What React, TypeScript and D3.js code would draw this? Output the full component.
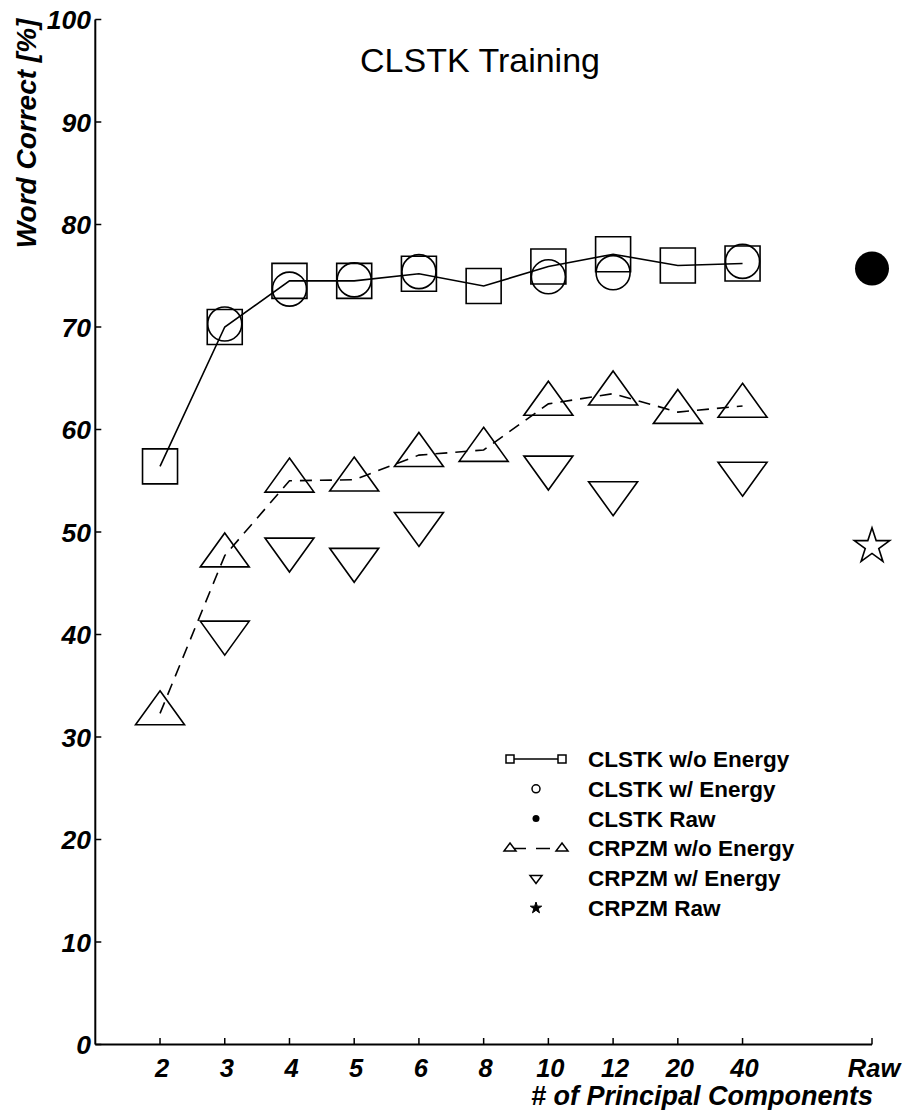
import React from 'react';
import * as d3 from 'd3';

const categories = ['2', '3', '4', '5', '6', '8', '10', '12', '20', '40'];
const rawLabel = 'Raw';
const yTicks = [0, 10, 20, 30, 40, 50, 60, 70, 80, 90, 100];

// values (null = no marker)
const clstkNoEnergy = [56.4, 70.0, 74.5, 74.5, 75.2, 74.0, 75.9, 77.1, 76.0, 76.2];
const clstkEnergy = [null, 70.3, 73.7, 74.6, 75.4, null, 74.9, 75.3, null, 76.4];
const clstkRaw = 75.7;
const crpzmNoEnergy = [32.3, 47.7, 55.0, 55.1, 57.5, 58.0, 62.5, 63.5, 61.7, 62.3];
const crpzmEnergy = [null, 40.2, 48.3, 47.3, 50.8, null, 56.3, 53.8, null, 55.7];
const crpzmRaw = 48.6;

const legendLabels = [
  'CLSTK w/o Energy',
  'CLSTK w/ Energy',
  'CLSTK Raw',
  'CRPZM w/o Energy',
  'CRPZM w/ Energy',
  'CRPZM Raw',
];

const W = 905;
const H = 1110;
const FONT = '"Liberation Sans", Arial, Helvetica, sans-serif';
const RAW_POS = 11;

function squarePath(cx: number, cy: number, s: number) {
  const p = d3.path();
  p.rect(cx - s / 2, cy - s / 2, s, s);
  return p.toString();
}

// triangle centred on its centroid; dir = 1 up, -1 down
function trianglePath(cx: number, cy: number, w: number, h: number, dir: number) {
  const p = d3.path();
  p.moveTo(cx, cy - dir * (2 * h) / 3);
  p.lineTo(cx + w / 2, cy + dir * h / 3);
  p.lineTo(cx - w / 2, cy + dir * h / 3);
  p.closePath();
  return p.toString();
}

function starPath(cx: number, cy: number, r: number) {
  const p = d3.path();
  const ri = r * 0.382;
  for (let i = 0; i < 10; i++) {
    const a = -Math.PI / 2 + (i * Math.PI) / 5;
    const rr = i % 2 === 0 ? r : ri;
    const x = cx + rr * Math.cos(a);
    const y = cy + rr * Math.sin(a);
    if (i === 0) p.moveTo(x, y);
    else p.lineTo(x, y);
  }
  p.closePath();
  return p.toString();
}

export default function App() {
  const x = d3.scaleLinear().domain([-1, RAW_POS]).range([95.3, 872]);
  const y = d3.scaleLinear().domain([0, 100]).range([1044.5, 19.5]);

  const lineGen = d3
    .line<number>()
    .x((_, i) => x(i))
    .y((d) => y(d));

  const tickPositions = [...categories.map((_, i) => i), RAW_POS];
  const tickLabels = [...categories, rawLabel];

  const legendY = d3.scalePoint<number>().domain(d3.range(6)).range([759, 908]);
  const lx0 = 510;
  const lx1 = 562;
  const lxc = 536;

  return (
    <svg
      width={W}
      height={H}
      style={{ position: 'absolute', left: 0, top: 0, background: '#fff' }}
      fontFamily={FONT}
    >
      <rect width={W} height={H} fill="#fff" />

      {/* title */}
      <text x={480} y={72} fontSize={34} textAnchor="middle" fill="#000">
        CLSTK Training
      </text>

      {/* axes */}
      <line x1={x(-1)} x2={x(-1)} y1={y(100)} y2={y(0)} stroke="#000" strokeWidth={2} />
      <line x1={x(-1)} x2={x(RAW_POS)} y1={y(0)} y2={y(0)} stroke="#000" strokeWidth={2} />
      {yTicks.map((t) => (
        <g key={t}>
          <line x1={x(-1)} x2={x(-1) + 6} y1={y(t)} y2={y(t)} stroke="#000" strokeWidth={1.5} />
          <text
            x={91}
            y={y(t) + 9.5}
            fontSize={26.5}
            fontWeight="bold"
            fontStyle="italic"
            textAnchor="end"
          >
            {t}
          </text>
        </g>
      ))}
      {tickPositions.map((p, i) => (
        <g key={tickLabels[i]}>
          <line x1={x(p)} x2={x(p)} y1={y(0)} y2={y(0) - 6.5} stroke="#000" strokeWidth={1.5} />
          <text
            x={x(p) + 2}
            y={1077}
            fontSize={25.5}
            fontWeight="bold"
            fontStyle="italic"
            textAnchor="middle"
          >
            {tickLabels[i]}
          </text>
        </g>
      ))}
      <text
        x={873}
        y={1105}
        fontSize={27}
        fontWeight="bold"
        fontStyle="italic"
        textAnchor="end"
      >
        # of Principal Components
      </text>
      <text
        transform="translate(36,133.5) rotate(-90)"
        fontSize={28}
        fontWeight="bold"
        fontStyle="italic"
        textAnchor="middle"
      >
        Word Correct [%]
      </text>

      {/* CLSTK */}
      <path d={lineGen(clstkNoEnergy) || ''} fill="none" stroke="#000" strokeWidth={1.6} />
      {clstkNoEnergy.map((v, i) => (
        <path key={'sq' + i} d={squarePath(x(i), y(v), 35)} fill="none" stroke="#000" strokeWidth={1.6} />
      ))}
      {clstkEnergy.map((v, i) =>
        v == null ? null : (
          <circle key={'ci' + i} cx={x(i)} cy={y(v)} r={17} fill="none" stroke="#000" strokeWidth={1.6} />
        ),
      )}
      <circle cx={x(RAW_POS)} cy={y(clstkRaw)} r={17} fill="#000" />

      {/* CRPZM */}
      <path
        d={lineGen(crpzmNoEnergy) || ''}
        fill="none"
        stroke="#000"
        strokeWidth={1.6}
        strokeDasharray="12,8"
      />
      {crpzmNoEnergy.map((v, i) => (
        <path key={'tu' + i} d={trianglePath(x(i), y(v), 49, 34, 1)} fill="none" stroke="#000" strokeWidth={1.6} />
      ))}
      {crpzmEnergy.map((v, i) =>
        v == null ? null : (
          <path key={'td' + i} d={trianglePath(x(i), y(v), 49, 34, -1)} fill="none" stroke="#000" strokeWidth={1.6} />
        ),
      )}
      <path d={starPath(x(RAW_POS), y(crpzmRaw), 18.6)} fill="none" stroke="#000" strokeWidth={1.6} />

      {/* legend */}
      <g>
        <line x1={lx0} x2={lx1} y1={legendY(0)} y2={legendY(0)} stroke="#000" strokeWidth={1.5} />
        <path d={squarePath(lx0, legendY(0)!, 8)} fill="#fff" stroke="#000" strokeWidth={1.5} />
        <path d={squarePath(lx1, legendY(0)!, 8)} fill="#fff" stroke="#000" strokeWidth={1.5} />
        <circle cx={lxc} cy={legendY(1)} r={4} fill="none" stroke="#000" strokeWidth={1.5} />
        <circle cx={lxc} cy={legendY(2)} r={3.5} fill="#000" />
        <line
          x1={lx0}
          x2={lx1}
          y1={legendY(3)}
          y2={legendY(3)}
          stroke="#000"
          strokeWidth={1.5}
          strokeDasharray="14,10"
          strokeDashoffset={-2}
        />
        <path d={trianglePath(lx0, legendY(3)!, 12, 8, 1)} fill="#fff" stroke="#000" strokeWidth={1.5} />
        <path d={trianglePath(lx1, legendY(3)!, 12, 8, 1)} fill="#fff" stroke="#000" strokeWidth={1.5} />
        <path d={trianglePath(lxc, legendY(4)!, 12, 8, -1)} fill="none" stroke="#000" strokeWidth={1.5} />
        <path d={starPath(lxc, legendY(5)!, 6)} fill="#000" stroke="#000" strokeWidth={1} />
        {legendLabels.map((l, i) => (
          <text key={l} x={588} y={legendY(i)! + 8} fontSize={22.5} fontWeight="bold">
            {l}
          </text>
        ))}
      </g>
    </svg>
  );
}
